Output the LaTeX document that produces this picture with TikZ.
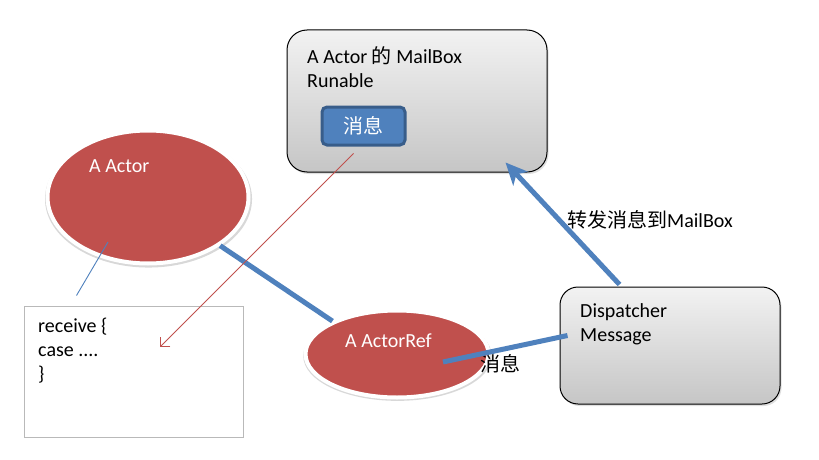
\documentclass[tikz,border=0pt]{standalone}
\usepackage{fontspec}
\setmainfont{Carlito}
\newfontfamily\cjk{Noto Sans CJK SC}
\usetikzlibrary{arrows.meta, shapes.geometric, calc, positioning, shadows}

\definecolor{actorred}{HTML}{C0504D}
\definecolor{msgblue}{HTML}{4F81BD}
\definecolor{msgedge}{HTML}{385D8A}

\tikzset{
    graybox/.style={draw=black, line width=1pt, rounded corners=20pt, top color=gray!10, bottom color=gray!45,
        drop shadow={opacity=0.25, shadow xshift=1.5pt, shadow yshift=-2pt}},
    actorshape/.style={ellipse, inner sep=0, fill=actorred, draw=white, line width=4pt,
        drop shadow={opacity=0.3, shadow xshift=0.5pt, shadow yshift=-2pt, shadow scale=1.03}},
    msgbox/.style={draw=msgedge, line width=3pt, fill=msgblue, rounded corners=5pt, text=white},
    txt/.style={anchor=base west, inner sep=0, align=left},
    fatlink/.style={draw=msgblue, line width=5pt},
    thinlink/.style={line width=0.9pt}
}

\begin{document}
\begin{tikzpicture}[x=1pt, y=-1pt, font=\fontsize{20}{24}\selectfont]
    \fill[white] (0,0) rectangle (819,460);
    \useasboundingbox (0,0) rectangle (819,460);

    % boxes
    \node[graybox, minimum width=260pt, minimum height=142pt] (mailbox) at (417, 101) {};
    \node[graybox, rounded corners=18pt, minimum width=220pt, minimum height=117pt] (dispatcher) at (670, 345.5) {};
    \node[draw=gray!55, line width=1pt, minimum width=219pt, minimum height=131pt] (code) at (133.5, 371.5) {};
    \node[msgbox, minimum width=83pt, minimum height=38pt] (msg) at (363.5, 126) {\cjk 消息};

    % actors
    \node[actorshape, minimum width=201pt, minimum height=133pt] (actor) at (148, 197) {};
    \node[actorshape, minimum width=183pt, minimum height=87pt] (actorref) at (397, 354) {};

    % texts (base = last line)
    \node[txt] (mailboxtext) at (307, 87) {A Actor {\cjk 的} MailBox\\Runable};
    \node[txt] (dispatchertext) at (580, 341) {Dispatcher\\Message};
    \node[txt] (codetext) at (38, 380) {receive \{\\case ....\\\}};
    \node[txt, text=white] (actortext) at (89, 172) {A Actor};
    \node[txt, text=white] (actorreftext) at (345, 347) {A ActorRef};
    \node[txt] (forward) at (567, 227) {{\cjk 转发消息到}MailBox};
    \node[txt] (msglabel) at (480, 371) {\cjk 消息};

    % links
    \draw[fatlink] (actor.-34) -- (actorref.153);
    \draw[fatlink] ($(actorref.center)+(46,8)$) -- ($(dispatcher.west)+(8,-10)$);
    \draw[fatlink, -{Stealth[length=22pt, width=20pt, inset=6pt]}]
        ($(dispatcher.north west)+(60,-2)$) -- ($(mailbox.south east)+(-42,-10)$);
    \draw[thinlink, actorred, -{Straight Barb[length=7pt, width=14pt]}]
        ($(msg.south)+(-10,7)$) -- ($(code.center)+(26.5,-24.5)$);
    \draw[thinlink, msgblue] ($(actor.center)+(-40,45)$) -- ($(code.north west)+(53,-10)$);
\end{tikzpicture}
\end{document}
